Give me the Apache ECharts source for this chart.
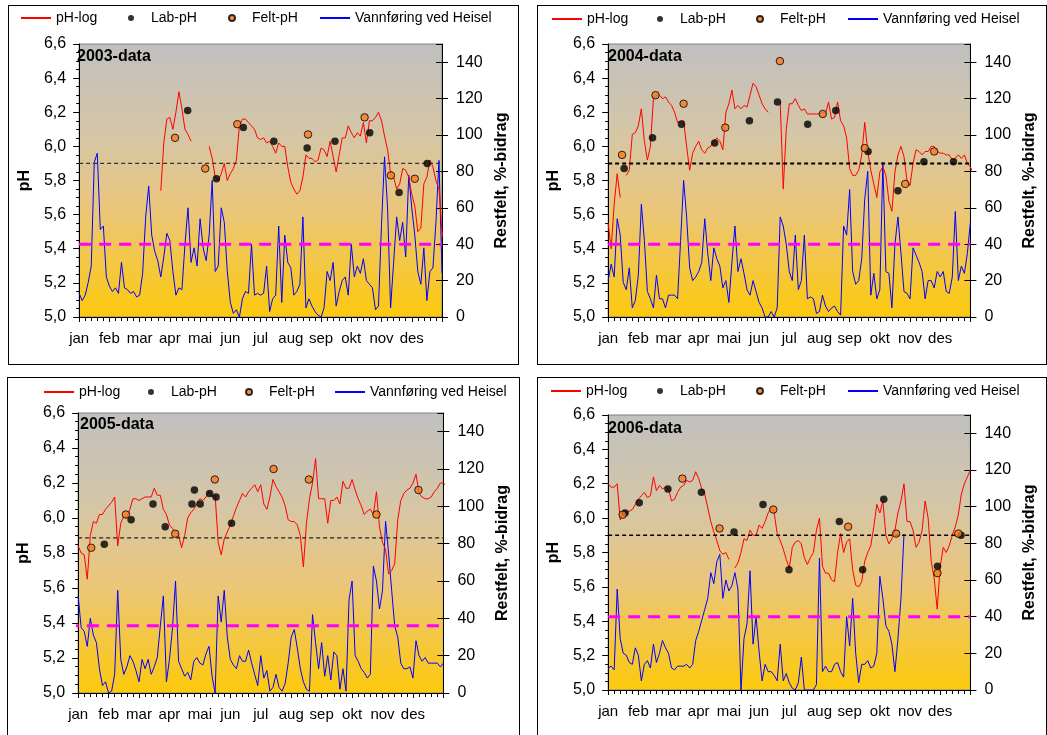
<!DOCTYPE html>
<html>
<head>
<meta charset="utf-8">
<script src="https://cdn.jsdelivr.net/npm/echarts@6/dist/echarts.min.js"></script>
<style>
  html, body { margin: 0; padding: 0; background: #fff; }
  body { width: 1047px; height: 735px; position: relative; overflow: hidden; }
  .panel { position: absolute; border: 1px solid #000; box-sizing: border-box; background: #fff; }
  .chart { position: absolute; left: 0; top: 0; width: 100%; height: 100%; }
</style>
</head>
<body>
<div class="panel" style="left:8px;top:5px;width:511px;height:360px"><div id="c2003" class="chart"></div></div>
<div class="panel" style="left:537px;top:5px;width:510px;height:360px"><div id="c2004" class="chart"></div></div>
<div class="panel" style="left:7px;top:377px;width:513px;height:370px"><div id="c2005" class="chart"></div></div>
<div class="panel" style="left:537px;top:377px;width:510px;height:370px"><div id="c2006" class="chart"></div></div>
<script>
// x = tiendedels måned (0..120), 10 punkter per måned
const months = ['jan', 'feb', 'mar', 'apr', 'mai', 'jun', 'jul', 'aug', 'sep', 'okt', 'nov', 'des']

// ---- 2003 ----
const ph2003 = [
  null, null, null, null, null, null, null, null, null, null,
  null, null, null, null, null, null, null, null, null, null,
  null, null, null, null, null, null, null, 5.74, 6.02, 6.16,
  6.17, 6.1, 6.2, 6.32, 6.22, 6.1, 6.07, 6.03, null, null,
  null, null, null, 6.0, 5.93, 5.82, 5.8, 5.84, 5.9, 5.8,
  5.84, 5.87, 5.92, 6.12, 6.16, 6.16, 6.14, 6.12, 6.1, 6.05,
  6.04, 6.05, 6.02, 6.03, 6.0, 5.96, 6.02, 6.0, 6.0, 5.88,
  5.79, 5.75, 5.72, 5.74, 5.82, 5.95, 5.93, 5.93, 5.91, 5.92,
  5.99, 5.98, 5.94, 6.03, 5.94, 5.85, 5.95, 6.05, 6.05, 6.12,
  6.08, 6.05, 6.08, 6.06, 6.14, 6.02, 6.15, 6.15, 6.17, 6.2,
  6.15, 6.06, 5.98, 5.84, 5.82, 5.75, 5.78, 5.87, 5.86, 5.82,
  5.72, 5.65, 5.5, 5.52, 5.78, 5.82, 5.92, 5.88, 5.8, 5.75,
  5.5, 5.42
]
const flow2003 = [
  13, 9, 12, 19, 28, 85, 90, 48, 50, 22,
  17, 14, 16, 13, 30, 16, 15, 13, 14, 11,
  12, 24, 55, 72, 45, 36, 31, 22, 33, 46,
  42, 25, 12, 16, 15, 40, 60, 30, 38, 28,
  54, 38, 31, 45, 75, 25, 28, 60, 52, 25,
  8, 2, 4, 0, 10, 14, 13, 40, 12, 13,
  12, 13, 28, 3, 10, 12, 50, 8, 45, 30,
  27, 12, 14, 18, 55, 5, 10, 6, 3, 1,
  0, 5, 25, 20, 30, 6, 14, 20, 22, 12,
  40, 22, 28, 24, 32, 20, 18, 16, 4, 6,
  51, 88, 60, 5, 30, 55, 42, 52, 33, 78,
  60, 45, 25, 18, 38, 9, 25, 27, 52, 86,
  24
]
const lab2003 = [[35.9, 6.21], [45.4, 5.81], [54.3, 6.11], [64.4, 6.03], [75.4, 5.99], [84.6, 6.03], [96.1, 6.08], [105.8, 5.73], [115.1, 5.9]]
const felt2003 = [[31.7, 6.05], [41.7, 5.87], [52.3, 6.13], [75.7, 6.07], [94.4, 6.17], [103.1, 5.83], [111, 5.81]]

// ---- 2004 ----
const ph2004 = [
  5.55, 5.4, 5.66, 5.84, 5.7, null, 5.83, 5.86, 6.07, 6.08,
  6.12, 6.22, 6.03, 5.92, 6.0, 6.28, 6.3, 6.3, 6.28, 6.29,
  6.26, 6.24, 6.2, 6.14, 6.15, 6.15, 6.0, 5.86, 5.96, 6.0,
  6.03, 5.98, 5.96, 5.99, 6.0, 6.03, 6.05, 6.03, 5.98, 6.2,
  6.25, 6.33, 6.22, 6.24, 6.22, 6.24, 6.23, 6.3, 6.37, 6.35,
  6.3, 6.25, 6.22, 6.2, null, null, null, 6.26, 5.75, 6.1,
  6.25, 6.25, 6.28, 6.24, 6.21, 6.22, 6.19, 6.19, 6.19, 6.19,
  6.19, 6.2, 6.19, 6.26, 6.16, 6.17, 6.26, 6.15, 6.12, 6.05,
  5.87, 5.83, 5.83, 5.86, 5.95, 6.14, 5.97, 5.86, 5.78, 5.7,
  5.85, 5.88, 5.83, 5.68, 5.62, 5.85, 5.95, 6.0, 5.94, 5.8,
  5.77, 5.9, 5.98, 5.97, 5.95, 5.97, 5.97, 6.0, 6.0, 5.97,
  5.96, 5.96, 5.95, 5.95, 5.92, 5.93, 5.95, 5.93, 5.95, 5.9,
  5.88, 5.84, 5.78
]
const flow2004 = [
  20, 29, 22, 54, 45, 19, 15, 27, 5, 9,
  23, 62, 42, 14, 10, 5, 23, 10, 10, 5,
  12, 12, 12, 10, 42, 75, 55, 27, 20, 22,
  25, 30, 54, 35, 20, 38, 32, 28, 16, 20,
  8, 30, 50, 25, 32, 24, 15, 12, 20, 14,
  8, 5, 0, 0, 3, 0, 5, 55, 50, 40,
  25, 20, 45, 15, 20, 45, 10, 11, 10, 2,
  3, 12, 6, 3, 5, 6, 3, 1, 50, 45,
  70, 25, 18, 20, 32, 65, 80, 12, 24, 10,
  15, 85, 25, 24, 5, 40, 55, 35, 14, 13,
  10, 38, 34, 30, 25, 10, 20, 20, 16, 25,
  22, 25, 14, 13, 22, 58, 20, 28, 24, 35,
  52
]
const lab2004 = [[5.3, 5.87], [14.7, 6.05], [24.3, 6.13], [35.3, 6.02], [46.8, 6.15], [56.1, 6.26], [66.1, 6.13], [75.4, 6.21], [86.1, 5.97], [96, 5.74], [104.6, 5.91], [114.4, 5.91]]
const felt2004 = [[4.6, 5.95], [15.7, 6.3], [25, 6.25], [38.8, 6.11], [56.9, 6.5], [71.1, 6.19], [85, 5.99], [98.4, 5.78], [108, 5.97]]

// ---- 2005 ----
const ph2005 = [
  5.84, 5.8, 5.79, 5.65, 5.9, 5.98, 5.97, 6.02, 6.02, 6.05,
  6.07, 6.09, 6.12, 5.84, 5.97, 6.01, 6.0, 6.05, 6.11, 6.11,
  6.1, 6.11, 6.12, 6.12, 6.12, 6.17, 6.13, 6.13, 6.05, 6.02,
  5.96, 5.94, 5.92, 5.9, 5.83, 5.9, 6.0, 6.03, 6.05, 6.08,
  6.11, 6.1, 6.12, 6.15, 6.12, 6.13, 5.86, 5.79, 5.88, 5.92,
  5.96, 6.01, 6.06, 6.1, 6.14, 6.12, 6.15, 6.17, 6.19, 6.15,
  6.19, 6.08, 6.05, 6.12, 6.22, 6.18, 6.15, 6.12, 6.07, 5.99,
  5.98, 5.98, 5.96, 5.9, 5.72, 5.97, 6.11, 6.2, 6.34, 6.11,
  6.11, 6.11, 5.97, 6.1, 6.1, 6.12, 6.08, 6.21, 6.17, 6.17,
  6.22, 6.16, 6.11, 6.07, 6.02, 6.04, 6.05, 6.02, 6.15, 5.95,
  5.86, 5.82, 5.68, 5.7, 5.74, 5.99, 6.1, 6.14, 6.16, 6.17,
  6.2, 6.25, 6.14, 6.12, 6.11, 6.11, 6.12, 6.15, 6.17, 6.2,
  6.2, 6.18
]
const flow2005 = [
  52, 35, 33, 25, 40, 31, 27, 13, 4, 6,
  0, 1, 10, 55, 18, 10, 14, 20, 17, 12,
  6, 18, 13, 18, 10, 14, 19, 36, 52, 6,
  18, 35, 60, 17, 13, 9, 11, 7, 17, 19,
  16, 15, 21, 25, 9, 0, 52, 38, 55, 30,
  18, 15, 13, 20, 17, 17, 23, 16, 10, 4,
  20, 8, 12, 1, 3, 10, 3, 1, 5, 16,
  30, 34, 24, 13, 6, 2, 1, 42, 27, 13,
  27, 9, 20, 7, 22, 20, 2, 13, 1, 50,
  60, 20, 17, 13, 11, 8, 10, 68, 60, 45,
  55, 92, 75, 55, 36, 30, 16, 13, 13, 14,
  8, 28, 20, 17, 19, 16, 16, 16, 16, 14,
  16
]
const lab2005 = [[8.6, 5.85], [17.4, 5.99], [24.6, 6.08], [28.6, 5.95], [37.4, 6.08], [38.2, 6.16], [40.1, 6.08], [43.2, 6.14], [45.3, 6.12], [50.4, 5.97]]
const felt2005 = [[4.3, 5.83], [15.7, 6.02], [31.9, 5.91], [44.9, 6.22], [64.2, 6.28], [75.8, 6.22], [98, 6.02], [111.8, 6.16]]

// ---- 2006 ----
const ph2006 = [
  6.2, 6.18, 6.18, 6.2, 5.99, 6.04, 6.03, 6.04, 6.05, 6.08,
  6.11, 6.13, 6.15, 6.12, 6.13, 6.24, 6.16, 6.19, 6.17, 6.18,
  6.17, 6.1, 6.11, 6.15, 6.18, 6.19, 6.22, 6.21, 6.22, 6.27,
  6.23, 6.17, 6.14, 6.06, 5.98, 5.92, 5.87, 5.81, 5.79, 5.8,
  5.76, null, 5.71, 5.74, 5.8, 5.88, 5.87, 5.93, 5.9, 5.9,
  5.96, 5.94, 5.98, 6.03, 6.06, 6.03, 5.91, 5.87, 5.82, 5.76,
  5.71, 5.83, 5.86, 5.87, 5.85, 5.77, 5.73, 5.77, 5.8, 5.93,
  6.0, 5.72, 5.68, 5.68, 5.64, 5.63, 5.8, 5.91, 5.8, 5.86,
  5.88, 5.7, 5.61, 5.6, 5.63, 5.75, 5.8, 5.84, 5.95, 6.08,
  6.03, 6.1, 5.9, 5.85, 5.88, 5.93, 6.03, 6.1, 6.2, 5.98,
  5.98, 5.93, 5.83, 5.86, 5.93, 6.1, 6.0, 5.75, 5.65, 5.47,
  5.72, 5.83, 5.8, 5.84, 5.9, 5.95, 6.02, 6.14, 6.2, 6.24,
  6.28
]
const flow2006 = [
  12, 13, 11, 55, 28, 20, 19, 15, 14, 23,
  19, 5, 14, 16, 12, 25, 15, 20, 27, 23,
  20, 12, 11, 13, 13, 13, 14, 12, 14, 27,
  32, 38, 44, 50, 64, 58, 70, 74, 50, 60,
  54, 57, 64, 55, 0, 28, 36, 65, 25, 40,
  21, 5, 14, 10, 10, 8, 5, 25, 5, 9,
  4, 1, 0, 4, 18, 0, 0, 0, 0, 3,
  72, 10, 13, 10, 10, 14, 15, 10, 7, 40,
  24, 50, 20, 4, 14, 14, 16, 12, 13, 20,
  62, 50, 35, 32, 25, 10, 28, 50, 85
]
const lab2006 = [[5.6, 6.03], [10.3, 6.09], [19.8, 6.17], [30.9, 6.15], [41.7, 5.92], [51.3, 6.08], [59.9, 5.7], [76.6, 5.98], [84.3, 5.7], [91.3, 6.11], [109.1, 5.72], [116.9, 5.9]]
const felt2006 = [[4.8, 6.02], [24.6, 6.23], [36.9, 5.94], [54.7, 6.05], [79.5, 5.95], [95.4, 5.91], [109.1, 5.68], [116, 5.91]]

// referanselinjer
const phLimit = { 2003: 5.9, 2004: 5.9, 2005: 5.887, 2006: 5.9 }
const restLimit = { 2003: 40, 2004: 40, 2005: 36, 2006: 40 }
const restSpan = { 2003: [0, 120], 2004: [0, 120], 2005: [-3.7, 122.2], 2006: [0, 120] }

// layout per panel (legendX = venstrekant for hvert forklaringselement)
const panels = [
  { id: 'c2003', year: 2003, ph: ph2003, flow: flow2003, lab: lab2003, felt: felt2003,
    grid: { left: 65, top: 38, width: 368, height: 273 }, legendX: [11, 119, 219, 310], legendY: 5, title: [68, 43],
    phGap: 40, restGap: 50, dash: { color: '#333', width: 1.2 } },
  { id: 'c2004', year: 2004, ph: ph2004, flow: flow2004, lab: lab2004, felt: felt2004,
    grid: { left: 66, top: 38, width: 374, height: 273 }, legendX: [13, 119, 218, 309], legendY: 6, title: [70, 43],
    phGap: 40, restGap: 51, dash: { color: '#000', width: 2 } },
  { id: 'c2005', year: 2005, ph: ph2005, flow: flow2005, lab: lab2005, felt: felt2005,
    grid: { left: 58, top: 35, width: 386, height: 280 }, legendX: [35, 140, 237, 326], legendY: 7, title: [72, 39],
    phGap: 34, restGap: 43, dash: { color: '#222', width: 1.2 } },
  { id: 'c2006', year: 2006, ph: ph2006, flow: flow2006, lab: lab2006, felt: felt2006,
    grid: { left: 66, top: 37, width: 374, height: 275 }, legendX: [12, 119, 218, 309], legendY: 6, title: [70, 43],
    phGap: 40, restGap: 51, dash: { color: '#000', width: 1.6 } }
]

const font = 'Liberation Sans, Arial, sans-serif'
const toXY = arr => arr.map((v, i) => [i, v == null ? '-' : v])

// linjeserier: bare strek i forklaringen, ingen markør
const legendItems = [
  { name: 'pH-log', itemStyle: { opacity: 0 } },
  { name: 'Lab-pH' },
  { name: 'Felt-pH' },
  { name: 'Vannføring ved Heisel', itemStyle: { opacity: 0 } }
]

panels.forEach(p => {
  const chart = echarts.init(document.getElementById(p.id), null, { renderer: 'canvas' })
  chart.setOption({
    animation: false,
    textStyle: { fontFamily: font, color: '#000' },
    title: {
      text: p.year + '-data', left: p.title[0], top: p.title[1], padding: 0,
      textStyle: { fontSize: 16, fontWeight: 'bold', color: '#000', fontFamily: font }
    },
    legend: legendItems.map((item, k) => ({
      left: p.legendX[k], top: p.legendY, padding: 0,
      itemWidth: 30, itemHeight: 6, selectedMode: false,
      textStyle: { fontSize: 14, color: '#000', fontFamily: font },
      data: [item]
    })),
    grid: Object.assign({
      show: true, borderColor: '#808080', borderWidth: 1,
      backgroundColor: {
        type: 'linear', x: 0, y: 0, x2: 0, y2: 1,
        colorStops: [
          { offset: 0, color: '#c0c0c0' },
          { offset: 0.35, color: '#d6c6a4' },
          { offset: 0.6, color: '#eac67c' },
          { offset: 1, color: '#fdc90c' }
        ]
      }
    }, p.grid),
    xAxis: {
      type: 'value', min: 0, max: 120, interval: 10,
      axisLine: { lineStyle: { color: '#000', width: 1 } },
      axisTick: { length: 5, lineStyle: { color: '#000' } },
      minorTick: { show: true, splitNumber: 5, length: 4, lineStyle: { color: '#000' } },
      splitLine: { show: false },
      axisLabel: {
        margin: 14, fontSize: 15, color: '#000', fontFamily: font,
        formatter: v => months[Math.round(v / 10)] || ''
      }
    },
    yAxis: [
      {
        type: 'value', min: 5, max: 6.6, interval: 0.2, position: 'left',
        name: 'pH', nameLocation: 'middle', nameGap: p.phGap, nameRotate: 90,
        nameTextStyle: { fontSize: 16, fontWeight: 'bold', color: '#000', fontFamily: font },
        axisLine: { show: true, lineStyle: { color: '#000' } },
        axisTick: { show: true, length: 6, lineStyle: { color: '#000' } },
        minorTick: { show: true, splitNumber: 4, length: 3, lineStyle: { color: '#000' } },
        splitLine: { show: false },
        axisLabel: { margin: 13, fontSize: 16, color: '#000', fontFamily: font,
          formatter: v => v.toFixed(1).replace('.', ',') }
      },
      {
        type: 'value', min: 0, max: 150, interval: 20, position: 'right',
        name: 'Restfelt, %-bidrag', nameLocation: 'middle', nameGap: p.restGap, nameRotate: 90,
        nameTextStyle: { fontSize: 16, fontWeight: 'bold', color: '#000', fontFamily: font },
        axisLine: { show: true, lineStyle: { color: '#000' } },
        axisTick: { show: true, length: 6, lineStyle: { color: '#000' } },
        splitLine: { show: false },
        axisLabel: { margin: 14, fontSize: 16, color: '#000', fontFamily: font, showMaxLabel: false }
      },
      {
        type: 'value', min: 0, max: 150, interval: 20, position: 'right',
        axisLine: { show: false },
        axisTick: { show: true, inside: true, length: 6, lineStyle: { color: '#000' } },
        splitLine: { show: false },
        axisLabel: { show: false }
      }
    ],
    series: [
      {
        name: 'pH-log', type: 'line', data: toXY(p.ph), symbol: 'none', clip: false,
        lineStyle: { color: '#ff0000', width: 1 }, itemStyle: { color: '#ff0000' }, z: 3
      },
      {
        name: 'Lab-pH', type: 'scatter', data: p.lab, symbol: 'circle', symbolSize: 7.5,
        itemStyle: { color: '#000' }, z: 6
      },
      {
        name: 'Felt-pH', type: 'scatter', data: p.felt, symbol: 'circle', symbolSize: 7.5,
        itemStyle: { color: '#f7791f', borderColor: '#000', borderWidth: 1 }, z: 7
      },
      {
        name: 'Vannføring ved Heisel', type: 'line', yAxisIndex: 1, data: toXY(p.flow), symbol: 'none',
        lineStyle: { color: '#0000ff', width: 1 }, itemStyle: { color: '#0000ff' }, z: 2
      },
      {
        name: 'pH-grense', type: 'line', silent: true, symbol: 'none', z: 4,
        data: [[0, phLimit[p.year]], [120, phLimit[p.year]]],
        lineStyle: { color: p.dash.color, width: p.dash.width, type: [4, 3] }
      },
      {
        name: 'Restfelt-grense', type: 'line', yAxisIndex: 1, silent: true, symbol: 'none', z: 5, clip: false,
        data: [[restSpan[p.year][0], restLimit[p.year]], [restSpan[p.year][1], restLimit[p.year]]],
        lineStyle: { color: '#ff00ff', width: 3, type: [12, 8] }
      }
    ]
  })
})
</script>
</body>
</html>
